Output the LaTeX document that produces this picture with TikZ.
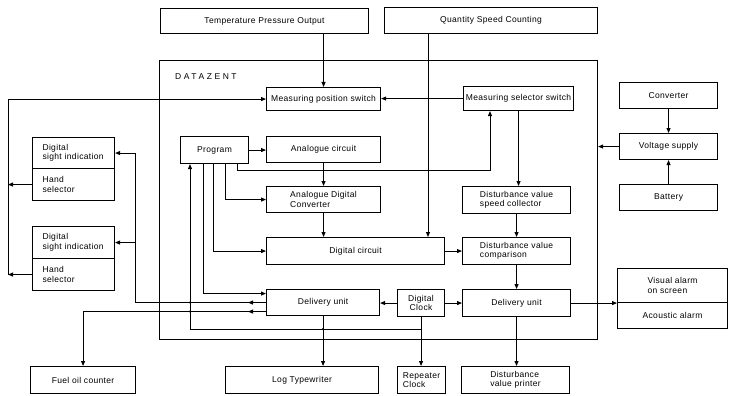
\documentclass[tikz,border=0pt]{standalone}
\usepackage{fontspec}
\setmainfont[LetterSpace=4]{Liberation Sans}
\usetikzlibrary{arrows.meta,decorations.markings,calc}

\tikzset{
  box/.style={draw, line width=1.1pt, inner sep=1pt, anchor=north west,
    font=\fontsize{8.5}{9.5}\selectfont, align=left},
  wire/.style={line width=0.9pt},
  arr/.style={wire, -{Triangle[length=5pt,width=4pt]}},
  tipat/.style={postaction={decorate}, decoration={markings,
    mark=at position #1 with {\arrow{Triangle[length=5pt,width=4pt]}}}},
  jdot/.style={circle, fill, inner sep=0pt, minimum size=2.4pt},
}

% \bx{name}{x1}{y1}{x2}{y2}{text}: box given by its corners (y grows downwards)
\newcommand\bx[7][]{\node[box, minimum width={(#5-#3)*1pt}, minimum height={(#6-#4)*1pt}, #1] (#2) at (#3,#4) {#7};}

\begin{document}
\begin{tikzpicture}[x=1pt,y=-1pt]
\useasboundingbox (0,0) rectangle (729,396);

% inputs on top
\bx{tpo}{160}{8}{368}{33}{Temperature Pressure Output}
\bx{qsc}{384}{7}{597}{33}{Quantity Speed Counting}

% the DATAZENT unit
\node[draw, line width=1.1pt, anchor=north west, inner sep=0pt,
      minimum width=438pt, minimum height=279pt] (frame) at (159,60) {};
\node[anchor=west, inner sep=0pt, font=\fontsize{8.5}{9.5}\selectfont\addfontfeature{LetterSpace=30}]
      (dztitle) at (175,77) {DATAZENT};

\bx{mps}{266}{87}{380}{110}{Measuring position switch}
\bx{mss}{463}{86}{573}{110}{Measuring selector switch}
\bx{prog}{180}{136}{248}{163}{Program}
\bx{ac}{266}{136}{380}{162}{Analogue circuit}
\bx{adc}{266}{186}{380}{212}{Analogue Digital\\Converter}
\bx{dc}{266}{237}{444}{264}{Digital circuit}
\bx{du1}{266}{289}{379}{315}{Delivery unit}
\bx[align=center]{dclk}{397}{289}{444}{316}{Digital\\Clock}
\bx{dvsc}{462}{186}{570}{213}{Disturbance value\\speed collector}
\bx{dvc}{462}{237}{570}{264}{Disturbance value\\comparison}
\bx{du2}{462}{289}{570}{316}{Delivery unit}

% power supply
\bx{conv}{619}{82}{717}{108}{Converter}
\bx{vs}{619}{133}{717}{159}{Voltage supply}
\bx{bat}{619}{184}{717}{210}{Battery}

% alarms
\bx{va}{617}{268}{727}{302}{Visual alarm\\on screen}
\bx{aa}{617}{302}{727}{328}{Acoustic alarm}

% local indication panels
\bx[text width=62pt]{dsi1}{32}{137}{114}{168}{Digital\\sight indication}
\bx[text width=62pt]{hs1}{32}{168}{114}{200}{Hand\\selector}
\bx[text width=62pt]{dsi2}{32}{226}{114}{258}{Digital\\sight indication}
\bx[text width=62pt]{hs2}{32}{258}{114}{290}{Hand\\selector}

% outputs at the bottom
\bx{foc}{30}{366}{135}{393}{Fuel oil counter}
\bx{lt}{225}{366}{378}{393}{Log Typewriter}
\bx{rc}{397}{366}{445}{393}{Repeater\\Clock}
\bx{dvp}{461}{366}{569}{393}{Disturbance\\value printer}

% helper points
\coordinate (p1) at ([xshift=10pt]prog.south west);
\coordinate (p2) at ([xshift=23pt]prog.south west);
\coordinate (p3) at ([xshift=33pt]prog.south west);
\coordinate (p4) at ([xshift=45pt]prog.south west);
\coordinate (p5) at ([xshift=57pt]prog.south west);
\coordinate (q) at ([xshift=44pt]qsc.south west);
\coordinate (bus) at (8,0);
\coordinate (xv) at (135,0);
\coordinate (du1a) at ([yshift=9pt]du1.west);
\coordinate (du1b) at ([yshift=-9pt]du1.west);
\coordinate (j1) at ($(dclk.south)+(0,12)$);

% measuring inputs
\draw[arr] (mps |- tpo.south) -- (mps.north);
\draw[arr] (q) -- (q |- dc.north);
\draw[arr] (mss.west) -- (mss.west -| mps.east);
\draw[arr] (mss.south) -- (mss.south |- dvsc.north);

% hand selectors back to the position switch
\draw[arr] (hs1.west) -- (hs1.west -| bus);
\draw[arr] (hs2.west) -- (hs2.west -| bus);
\draw[arr] (hs2.west -| bus) -- (mps.west -| bus) -- (mps.west);

% program control lines
\draw[arr] (prog.east) -- (prog.east -| ac.west);
\draw[arr] (p5) -- ++(0,6) -| ([xshift=27pt]mss.south west);
\draw[arr] (p4) |- (adc.west);
\draw[arr] (p3) |- (dc.west);
\draw[arr] (p2) |- (du1a);
\draw[arr] (j1) -| (p1);

% main signal chain
\draw[arr] (ac.south) -- (adc.north);
\draw[arr] (adc.south) -- (adc.south |- dc.north);
\draw[arr] (dc.east) -- (dc.east -| dvc.west);
\draw[arr] (dvsc.south) -- (dvsc.south |- dvc.north);
\draw[arr] (dvc.south) -- (dvc.south |- du2.north);
\draw[arr] (dclk.west) -- (dclk.west -| du1.east);
\draw[arr] (dclk.east) -- (dclk.east -| du2.west);

% outputs
\draw[arr] (du1.south) -- (du1.south |- lt.north);
\draw[arr] (dclk.south) -- (dclk.south |- rc.north);
\draw[arr] (du2.south) -- (du2.south |- dvp.north);
\draw[arr] (du2.east) -- (du2.east -| va.west);
\draw[arr, tipat=18pt] (du1.west) -- (du1.west -| xv) -- (xv |- dsi1.east) -- (dsi1.east);
\draw[arr] (xv |- dsi2.east) -- (dsi2.east);
\draw[arr, tipat=18pt] (du1b) -| (foc.north);

% power
\draw[arr] (vs.west) -- (vs.west -| frame.east);
\draw[arr] (conv.south) -- (vs.north);
\draw[arr] (bat.north) -- (vs.south);

% junction dots
\node[jdot] (jd1) at (du1.south |- j1) {};
\node[jdot] (jd2) at (p1 |- du1.west) {};
\node[jdot] (jd3) at (p1 |- du1b) {};
\end{tikzpicture}
\end{document}
